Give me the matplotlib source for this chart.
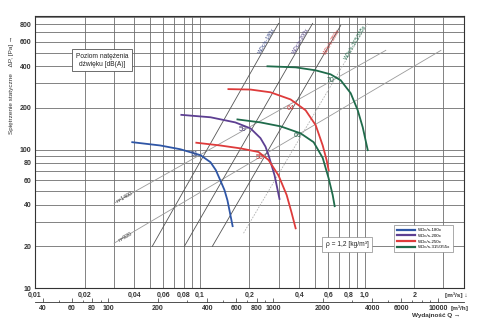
import numpy as np
import matplotlib.pyplot as plt
from matplotlib.ticker import FixedLocator, LogLocator, NullFormatter

plt.rcParams['font.family'] = ['Liberation Sans', 'DejaVu Sans']

# fan curves: flow Q [m3/s], static pressure dP [Pa]
blue_q = [0.0389, 0.0575, 0.0761, 0.101, 0.116, 0.125, 0.133, 0.141, 0.147, 0.158]
blue_p = [113, 107, 100.5, 91, 81, 71, 60, 51, 43, 28]
purple_q = [0.0772, 0.116, 0.164, 0.203, 0.233, 0.250, 0.261, 0.284, 0.304]
purple_p = [178, 171, 157, 142, 121, 105, 91, 65, 44]
red1_q = [0.0952, 0.133, 0.176, 0.227, 0.261, 0.300, 0.336, 0.360, 0.381]
red1_p = [112, 107, 102, 96, 84, 65, 47, 35, 27]
red2_q = [0.149, 0.203, 0.268, 0.355, 0.438, 0.504, 0.556, 0.587, 0.604]
red2_p = [273, 271, 259, 230, 192, 150, 107, 84, 71]
green1_q = [0.169, 0.233, 0.309, 0.408, 0.490, 0.556, 0.604, 0.639, 0.657]
green1_p = [165, 157, 147, 131, 113, 87, 62, 47, 39]
green2_q = [0.257, 0.381, 0.504, 0.621, 0.715, 0.822, 0.907, 0.972, 1.043]
green2_p = [399, 392, 373, 349, 316, 255, 192, 145, 99]

# noise level labels on the curves
noise_txt = ['51', '59', '55', '64', '66', '70']
noise_q = [0.0926, 0.181, 0.230, 0.355, 0.392, 0.621]
noise_p = [92.5, 140, 88, 199, 127, 316]
noise_col = ['#3a4a80', '#4a3a70', '#c83838', '#c83838', '#1e5e44', '#1e5e44']

# speed lines n=1400 / n=920
n1400_q = [0.0302, 1.342]
n1400_p = [41, 520]
n920_q = [0.0302, 2.90]
n920_p = [21.1, 520]

# system lines (fan sizes)
sys_q = [[0.0514, 0.300], [0.0805, 0.483], [0.119, 0.715], [0.184, 1.043]]
sys_p = [[20, 814], [20, 814], [20, 787], [24.9, 814]]
sys_lbl = ['WDc/s-180x', 'WDc/s-200x', 'WDc/s-250x', 'WDc/s-315/355x']
sys_lbl_q = [0.254, 0.408, 0.630, 0.882]
sys_lbl_p = [614, 614, 604, 594]

xt = [0.01, 0.02, 0.04, 0.06, 0.08, 0.1, 0.2, 0.4, 0.6, 0.8, 1.0, 2]
xt_lbl = ['0,01', '0,02', '0,04', '0,06', '0,08', '0,1', '0,2', '0,4', '0,6', '0,8', '1,0', '2']
yt = [10, 20, 40, 60, 80, 100, 200, 400, 600, 800]
ht = [40, 60, 80, 100, 200, 400, 600, 800, 1000, 2000, 4000, 6000, 10000]

c_blue = '#2f56a6'
c_purple = '#5d3f92'
c_red = '#de3b3b'
c_green = '#1f6b4b'
gcol = '#6e6e6e'

fig = plt.figure(figsize=(5, 3.27), dpi=100)
ax = fig.add_axes([0.07, 0.119, 0.858, 0.832])
ax.set_xscale('log')
ax.set_yscale('log')
ax.set_xlim(0.01, 4)
ax.set_ylim(10, 920)

ax.xaxis.set_major_locator(FixedLocator(xt))
ax.xaxis.set_major_formatter(plt.FixedFormatter(xt_lbl))
ax.xaxis.set_minor_locator(LogLocator(subs='all'))
ax.xaxis.set_minor_formatter(NullFormatter())
ax.yaxis.set_major_locator(FixedLocator(yt))
ax.yaxis.set_major_formatter(plt.FixedFormatter([str(v) for v in yt]))
ax.yaxis.set_minor_locator(LogLocator(subs='all'))
ax.yaxis.set_minor_formatter(NullFormatter())
ax.tick_params(which='both', length=0, labelsize=5, colors='#333333', pad=2.5)
for lab in ax.get_xticklabels() + ax.get_yticklabels():
    lab.set_fontweight('bold')
ax.grid(which='both', color=gcol, lw=0.6)
for s in ax.spines.values():
    s.set_color('#333333')
    s.set_linewidth(0.8)

# straight construction lines
ax.plot(n1400_q, n1400_p, color='#9a9a9a', lw=0.6)
ax.plot(n920_q, n920_p, color='#9a9a9a', lw=0.6)
ax.text(0.0352, 45.5, 'n=1400', fontsize=3.8, rotation=30, color='#333333', ha='center', va='center')
ax.text(0.0352, 23.4, 'n=920', fontsize=3.8, rotation=30, color='#333333', ha='center', va='center')
lcols = ['#2f3f80', '#4a3a80', '#d04040', '#1f6b4b']
for i in range(4):
    ls = '-' if i < 3 else (0, (2, 1.5))
    lc = '#555555' if i < 3 else '#b0b0b0'
    ax.plot(sys_q[i], sys_p[i], color=lc, lw=0.6, ls=ls)
    ax.text(sys_lbl_q[i], sys_lbl_p[i], sys_lbl[i], fontsize=3.8, rotation=60,
            color=lcols[i], ha='center', va='center')

# fan curves
ax.plot(blue_q, blue_p, color=c_blue, lw=1.3, label='WDc/s-180x')
ax.plot(purple_q, purple_p, color=c_purple, lw=1.3, label='WDc/s-200x')
ax.plot(red1_q, red1_p, color=c_red, lw=1.3, label='WDc/s-250x')
ax.plot(red2_q, red2_p, color=c_red, lw=1.3)
ax.plot(green1_q, green1_p, color=c_green, lw=1.3, label='WDc/s-315/355x')
ax.plot(green2_q, green2_p, color=c_green, lw=1.3)

for t, q, p, c in zip(noise_txt, noise_q, noise_p, noise_col):
    ax.text(q, p, t, fontsize=5, color=c, ha='center', va='center', zorder=5)

ax.text(0.0255, 440, 'Poziom natężenia\ndźwięku [dB(A)]', fontsize=4.8, color='#222222',
        ha='center', va='center', linespacing=1.3,
        bbox=dict(boxstyle='square,pad=0.5', fc='white', ec='#555555', lw=0.6))
ax.text(0.78, 20.5, 'ρ = 1,2 [kg/m³]', fontsize=4.8, color='#222222', ha='center', va='center',
        bbox=dict(boxstyle='square,pad=0.6', fc='white', ec='#888888', lw=0.5))

leg = ax.legend(loc='lower left', bbox_to_anchor=(0.832, 0.125), fontsize=3.2,
                handlelength=4, labelspacing=0.35, borderpad=0.6, frameon=True,
                fancybox=False, framealpha=1, edgecolor='#888888')
leg.get_frame().set_linewidth(0.5)
for ln in leg.get_lines():
    ln.set_linewidth(1.6)

ax.text(0.982, -0.026, '[m³/s] ↓', transform=ax.transAxes, fontsize=4.6, fontweight='bold',
        color='#333333', ha='center', va='center')

# second flow scale in m3/h
sec = ax.secondary_xaxis(-0.052, functions=(lambda q: q * 3600, lambda h: h / 3600))
sec.xaxis.set_major_locator(FixedLocator(ht))
sec.xaxis.set_major_formatter(plt.FixedFormatter([str(v) for v in ht]))
sec.xaxis.set_minor_locator(LogLocator(subs='all'))
sec.xaxis.set_minor_formatter(NullFormatter())
sec.tick_params(which='major', length=3, direction='in', labelsize=5, colors='#333333', pad=2, width=0.5)
sec.tick_params(which='minor', length=1.5, direction='in', width=0.5, colors='#333333')
for lab in sec.get_xticklabels():
    lab.set_fontweight('bold')
sec.spines['bottom'].set_color('#333333')
sec.spines['bottom'].set_linewidth(0.6)
ax.text(0.99, -0.075, '[m³/h]', transform=ax.transAxes, fontsize=4.6, fontweight='bold',
        color='#333333', ha='center', va='center')
ax.text(0.935, -0.102, 'Wydajność Q →', transform=ax.transAxes, fontsize=4.6, fontweight='bold',
        color='#333333', ha='center', va='center')

fig.text(0.024, 0.74, 'Spiętrzenie statyczne    ΔP, [Pa] →', rotation=90, fontsize=4.6,
         color='#333333', ha='center', va='center')

fig.savefig('out.png', dpi=100)
